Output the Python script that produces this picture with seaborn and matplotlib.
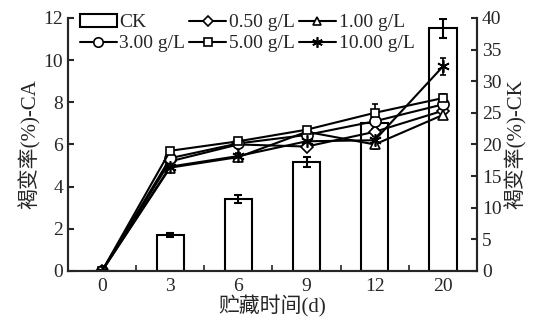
import numpy as np
import pandas as pd
import matplotlib
matplotlib.use("Agg")
import matplotlib.pyplot as plt
from matplotlib.lines import Line2D
from matplotlib.patches import Patch
import seaborn as sns

days = ["0", "3", "6", "9", "12", "20"]
ck = [0, 5.7, 11.4, 17.2, 23.4, 38.4]
ck_err = [0, 0.3, 0.6, 0.8, 0.9, 1.5]

conc_05 = [0, 5.2, 6.0, 5.9, 6.6, 7.6]
conc_1 = [0, 4.9, 5.4, 6.6, 6.0, 7.4]
conc_3 = [0, 5.35, 6.05, 6.45, 7.1, 7.9]
conc_5 = [0, 5.7, 6.15, 6.7, 7.5, 8.2]
conc_10 = [0, 4.95, 5.45, 6.15, 6.2, 9.7]
err_05 = [0, 0.15, 0.15, 0.15, 0.2, 0.2]
err_1 = [0, 0.15, 0.15, 0.15, 0.2, 0.2]
err_3 = [0, 0.15, 0.15, 0.15, 0.2, 0.2]
err_5 = [0, 0.15, 0.15, 0.15, 0.4, 0.2]
err_10 = [0, 0.15, 0.15, 0.15, 0.2, 0.4]

series = [
    ("0.50 g/L", conc_05, err_05, "D", 6),
    ("1.00 g/L", conc_1, err_1, "^", 6.5),
    ("3.00 g/L", conc_3, err_3, "o", 8),
    ("5.00 g/L", conc_5, err_5, "s", 6),
    ("10.00 g/L", conc_10, err_10, (6, 2, 0), 9),
]

sns.set_style("ticks")
plt.rcParams["font.family"] = ["Liberation Serif", "Noto Sans CJK SC"]
plt.rcParams["axes.linewidth"] = 1.5

fig = plt.figure(figsize=(5.39, 3.21), dpi=100)
ax = fig.add_axes([0.126, 0.156, 0.759, 0.788])
ax2 = ax.twinx()

# bars on the right axis, drawn below the lines
df = pd.DataFrame({"day": days, "ck": ck})
sns.barplot(data=df, x="day", y="ck", ax=ax2, color="white", edgecolor="black",
            linewidth=1.5, width=0.4, order=days, errorbar=None)
xs = np.arange(len(days))
ax2.errorbar(xs[1:], ck[1:], yerr=ck_err[1:], fmt="none", ecolor="black",
             elinewidth=1.5, capsize=3, capthick=1.5)

handles = {"CK": Patch(facecolor="white", edgecolor="black", linewidth=1.5)}
for label, vals, err, mk, ms in series:
    ax.errorbar(xs, vals, yerr=err, color="black", lw=1.5, marker=mk, ms=ms,
                mfc="white", mec="black", mew=1.2, capsize=2.5, capthick=1.2,
                elinewidth=1.2)
    handles[label] = Line2D([], [], color="black", lw=1.5, marker=mk,
                            ms=ms * 0.85, mfc="white", mec="black", mew=1.2)

ax.set_zorder(ax2.get_zorder() + 1)
ax.patch.set_visible(False)

ax.set_xlim(-0.5, len(days) - 0.5)
ax.set_ylim(0, 12)
ax.set_yticks(range(0, 13, 2))
ax2.set_ylim(0, 40)
ax2.set_yticks(range(0, 41, 5))
ax.set_xticks(xs)
ax.set_xticklabels(days)
ax.set_xticks(np.arange(0.5, len(days) - 0.5, 1), minor=True)
ax.tick_params(axis="x", which="major", length=0, labelsize=14, pad=5)
ax.tick_params(axis="x", which="minor", direction="in", length=4, width=1.2)
ax.tick_params(axis="y", direction="in", length=4, width=1.5, labelsize=14)
ax2.tick_params(axis="y", direction="in", length=4, width=1.5, labelsize=14)
ax2.set_xlabel("")
for a in (ax, ax2):
    a.spines["top"].set_visible(False)

ax.set_xlabel("贮藏时间(d)", fontsize=15, labelpad=0)
ax.set_ylabel("褐变率(%)-CA", fontsize=15, labelpad=2)
ax2.set_ylabel("褐变率(%)-CK", fontsize=15, labelpad=2)

order = ["CK", "3.00 g/L", "0.50 g/L", "5.00 g/L", "1.00 g/L", "10.00 g/L"]
ax.legend([handles[k] for k in order], order, ncol=3, frameon=False,
          loc="upper left", bbox_to_anchor=(0.0, 1.06), fontsize=14,
          handlelength=1.9, handletextpad=0.15, columnspacing=0.2,
          labelspacing=0.2, borderaxespad=0.2, handleheight=0.6)

fig.savefig("out.png", dpi=100)
